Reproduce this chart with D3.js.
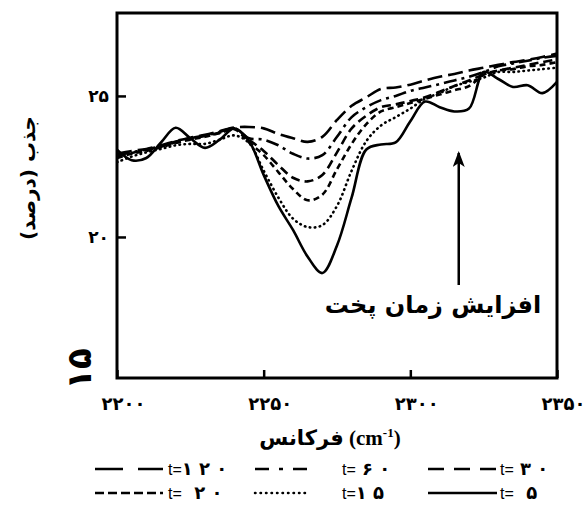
<!DOCTYPE html>
<html>
<head>
<meta charset="utf-8">
<script src="https://cdn.jsdelivr.net/npm/d3@7"></script>
<style>
  body { margin: 0; background: #fff; }
  svg { display: block; }
</style>
</head>
<body>
<div id="chart"></div>
<script>
// frequencies (cm-1) sampled every 5 units
const freq = [2200, 2205, 2210, 2215, 2220, 2225, 2230, 2235, 2240, 2245, 2250,
              2255, 2260, 2265, 2270, 2275, 2280, 2285, 2290, 2295, 2300,
              2305, 2310, 2315, 2320, 2325, 2330, 2335, 2340, 2345, 2350];

// absorbance (%) for each cure time
const t5   = [23.09, 22.72, 22.80, 23.35, 23.87, 23.50, 23.16, 23.45, 23.85, 23.40, 22.20,
              21.10, 20.25, 19.30, 18.72, 19.70, 21.40, 23.10, 23.28, 23.35, 24.10,
              24.80, 24.60, 24.45, 24.55, 25.85, 25.60, 25.32, 25.38, 25.10, 25.50];
const t15  = [22.65, 22.85, 23.00, 23.12, 23.25, 23.30, 23.30, 23.45, 23.60, 23.33, 22.35,
              21.40, 20.65, 20.35, 20.42, 21.10, 22.35, 23.40, 23.95, 24.25, 24.55,
              24.90, 25.10, 25.35, 25.50, 25.65, 25.85, 25.85, 25.90, 25.95, 26.00];
const t20  = [22.80, 22.95, 23.05, 23.18, 23.33, 23.45, 23.55, 23.68, 23.82, 23.35, 22.90,
              22.30, 21.70, 21.30, 21.50, 22.40, 23.30, 24.00, 24.45, 24.60, 24.75,
              24.90, 25.05, 25.20, 25.35, 25.75, 25.90, 25.95, 26.05, 26.10, 26.20];
const t30  = [22.85, 22.98, 23.08, 23.20, 23.36, 23.48, 23.58, 23.70, 23.85, 23.45, 23.05,
              22.55, 22.10, 21.97, 22.20, 23.00, 23.85, 24.30, 24.60, 24.70, 24.82,
              24.95, 25.15, 25.35, 25.55, 25.75, 25.90, 26.00, 26.10, 26.20, 26.30];
const t60  = [22.90, 23.00, 23.10, 23.22, 23.38, 23.50, 23.60, 23.72, 23.85, 23.50, 23.45,
              23.25, 22.95, 22.78, 22.90, 23.55, 24.25, 24.60, 24.85, 25.00, 25.18,
              25.30, 25.42, 25.55, 25.68, 25.85, 26.05, 26.15, 26.25, 26.35, 26.42];
const t120 = [22.95, 23.05, 23.12, 23.25, 23.40, 23.52, 23.62, 23.75, 23.88, 23.90, 23.85,
              23.65, 23.50, 23.37, 23.55, 24.15, 24.65, 24.95, 25.25, 25.30, 25.40,
              25.55, 25.68, 25.78, 25.90, 26.00, 26.10, 26.20, 26.28, 26.38, 26.50];

const xTicks = [2200, 2250, 2300, 2350];
const yTicks = [20, 25];
const legendDigits = ["۱ ۲ ۰", " ۶ ۰", " ۳ ۰", "  ۲ ۰", "۱ ۵", "  ۵"];

const series = [
    { key: "t120", values: t120 },
    { key: "t60",  values: t60 },
    { key: "t30",  values: t30 },
    { key: "t20",  values: t20 },
    { key: "t15",  values: t15 },
    { key: "t5",   values: t5 }
];

const lineStyle = {
    t120: { dash: "15,6",       legendDash: "28,15",       cap: "butt" },
    t60:  { dash: "13,5,3,5",   legendDash: "14,10,4,10",  cap: "butt" },
    t30:  { dash: "9,5",        legendDash: "16,10",       cap: "butt" },
    t20:  { dash: "6,4",        legendDash: "9,4",         cap: "butt" },
    t15:  { dash: "0.5,4.5",    legendDash: "0.5,5",       cap: "round" },
    t5:   { dash: null,         legendDash: null,          cap: "butt" }
};

const toFa = n => String(n).replace(/\d/g, d => "۰۱۲۳۴۵۶۷۸۹"[d]);

const width = 587, height = 508;
const plot = { left: 117, right: 557, top: 13, bottom: 378 };

const svg = d3.select("#chart").append("svg")
    .attr("width", width)
    .attr("height", height);

const x = d3.scaleLinear().domain([2200, 2350]).range([plot.left, plot.right]);
const y = d3.scaleLinear().domain([15, 27.94]).range([plot.bottom, plot.top]);

svg.append("clipPath").attr("id", "clip")
  .append("rect")
    .attr("x", plot.left).attr("y", plot.top)
    .attr("width", plot.right - plot.left)
    .attr("height", plot.bottom - plot.top);

// curves
const line = d3.line()
    .x((d, i) => x(freq[i]))
    .y(d => y(d))
    .curve(d3.curveCatmullRom.alpha(0.5));

svg.append("g").attr("clip-path", "url(#clip)")
  .selectAll("path")
  .data(series)
  .join("path")
    .attr("fill", "none")
    .attr("stroke", "#000")
    .attr("stroke-width", 2.6)
    .attr("stroke-linecap", d => lineStyle[d.key].cap)
    .attr("stroke-dasharray", d => lineStyle[d.key].dash)
    .attr("d", d => line(d.values));

// axes with inward ticks
const xAxis = svg.append("g")
    .attr("transform", `translate(0,${plot.bottom})`)
    .call(d3.axisBottom(x).tickValues(xTicks).tickSize(-8).tickPadding(19).tickFormat(toFa));
xAxis.select(".domain").remove();
xAxis.selectAll("line").attr("stroke-width", 2.5);
xAxis.selectAll("text")
    .attr("dx", 6)
    .attr("font-size", 18)
    .attr("font-weight", "bold")
    .attr("font-family", "DejaVu Sans, sans-serif");

const yAxis = svg.append("g")
    .attr("transform", `translate(${plot.left},0)`)
    .call(d3.axisLeft(y).tickValues(yTicks).tickSize(-9).tickPadding(8).tickFormat(toFa));
yAxis.select(".domain").remove();
yAxis.selectAll("line").attr("stroke-width", 2.5);
yAxis.selectAll("text")
    .attr("font-size", 17)
    .attr("font-weight", "bold")
    .attr("font-family", "DejaVu Sans, sans-serif");

// big rotated 15 at the bottom of the y axis
svg.append("text")
    .attr("transform", `translate(91,${y(15) - 9}) rotate(-90)`)
    .attr("text-anchor", "middle")
    .attr("font-size", 34)
    .attr("font-weight", "bold")
    .attr("font-family", "DejaVu Sans, sans-serif")
    .text(toFa(15));

// frame
svg.append("rect")
    .attr("x", plot.left).attr("y", plot.top)
    .attr("width", plot.right - plot.left)
    .attr("height", plot.bottom - plot.top)
    .attr("fill", "none")
    .attr("stroke", "#000")
    .attr("stroke-width", 3);

// axis titles
svg.append("text")
    .attr("transform", "translate(35,178) rotate(-90)")
    .attr("text-anchor", "middle")
    .attr("font-size", 20)
    .attr("font-weight", "bold")
    .attr("font-family", "DejaVu Sans, sans-serif")
    .text("جذب (درصد)");

const xt = svg.append("text")
    .attr("x", 330).attr("y", 445)
    .attr("text-anchor", "middle")
    .attr("font-size", 21)
    .attr("font-weight", "bold")
    .attr("font-family", "Liberation Serif, DejaVu Sans, serif");
xt.append("tspan").text("فرکانس ");
xt.append("tspan").text("(cm");
xt.append("tspan").attr("font-size", 13).attr("dy", -8).text("-1");
xt.append("tspan").attr("dy", 8).text(")");

// annotation arrow (head drawn along +x, rotated by orient=auto)
svg.append("defs").append("marker")
    .attr("id", "head")
    .attr("viewBox", "0 0 16 12")
    .attr("refX", 14).attr("refY", 6)
    .attr("markerWidth", 16).attr("markerHeight", 12)
    .attr("markerUnits", "userSpaceOnUse")
    .attr("orient", "auto")
  .append("path")
    .attr("d", "M0,0 L16,6 L0,12 L4,6 Z")
    .attr("fill", "#000");

svg.append("line")
    .attr("x1", x(2316.5)).attr("x2", x(2316.5))
    .attr("y1", 285).attr("y2", 153)
    .attr("stroke", "#000")
    .attr("stroke-width", 2.5)
    .attr("marker-end", "url(#head)");

svg.append("text")
    .attr("x", 433).attr("y", 313)
    .attr("text-anchor", "middle")
    .attr("font-size", 24)
    .attr("font-weight", "bold")
    .attr("font-family", "DejaVu Sans, sans-serif")
    .text("افزایش زمان پخت");

// legend, two rows of three
const legendX = [95, 255, 428];
const sampleW = [68, 53, 69];
const textX = [168, 342, 500];
const rowY = [469, 493];

series.forEach(function(s, i) {
    const col = i % 3, row = Math.floor(i / 3);
    const ly = rowY[row];
    svg.append("line")
        .attr("x1", legendX[col]).attr("x2", legendX[col] + sampleW[col])
        .attr("y1", ly).attr("y2", ly)
        .attr("stroke", "#000")
        .attr("stroke-width", 2.5)
        .attr("stroke-linecap", lineStyle[s.key].cap)
        .attr("stroke-dasharray", lineStyle[s.key].legendDash);
    const lt = svg.append("text")
        .attr("x", textX[col]).attr("y", ly + 6)
        .attr("font-size", 16)
        .attr("xml:space", "preserve")
        .attr("font-family", "Liberation Sans, DejaVu Sans, sans-serif");
    lt.append("tspan").text("t=");
    lt.append("tspan")
        .attr("font-size", 18)
        .attr("font-weight", "bold")
        .attr("font-family", "DejaVu Sans, sans-serif")
        .text(legendDigits[i]);
});
</script>
</body>
</html>
